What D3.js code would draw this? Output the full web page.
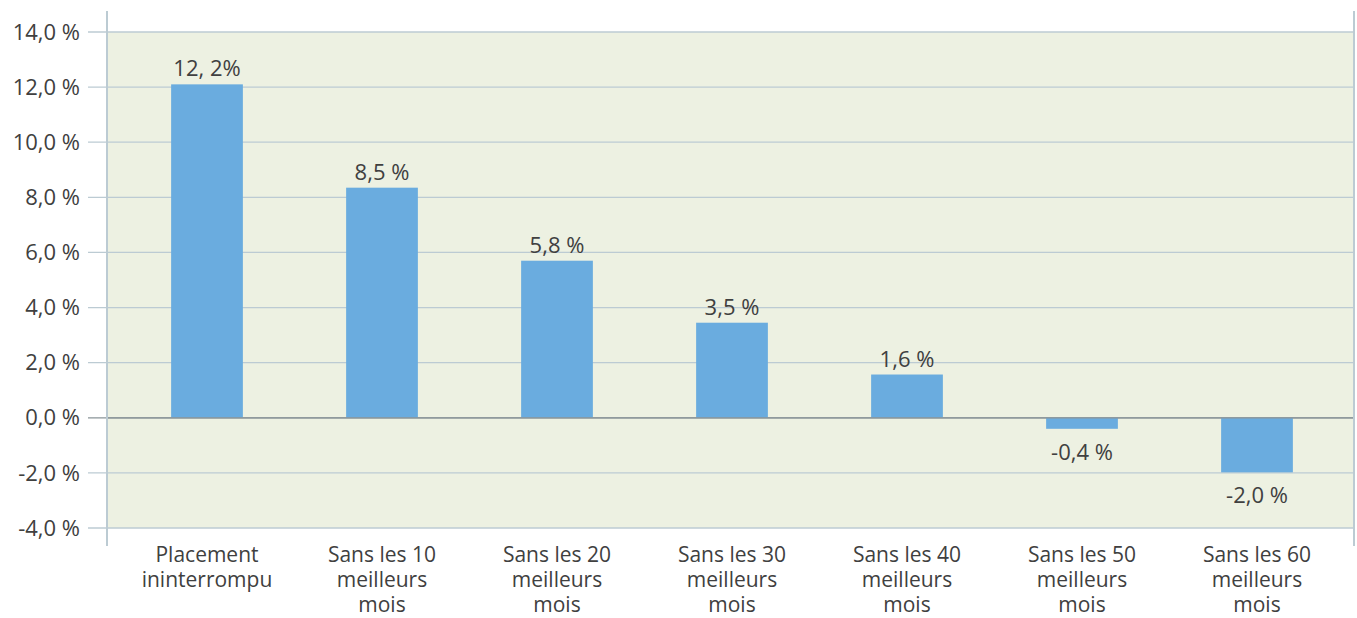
<!DOCTYPE html>
<html>
<head>
<meta charset="utf-8">
<script src="https://cdn.jsdelivr.net/npm/d3@7"></script>
<style>
	body { margin: 0; background: #fff; }
	text { font-family: "Open Sans", Lato, sans-serif; font-weight: 400; fill: #404040; }
</style>
</head>
<body>
<div id="chart"></div>
<script>
// categories (split into lines)
const categories = [
	["Placement", "ininterrompu"],
	["Sans les 10", "meilleurs", "mois"],
	["Sans les 20", "meilleurs", "mois"],
	["Sans les 30", "meilleurs", "mois"],
	["Sans les 40", "meilleurs", "mois"],
	["Sans les 50", "meilleurs", "mois"],
	["Sans les 60", "meilleurs", "mois"]
];
// bar heights
const values = [12.1, 8.35, 5.7, 3.45, 1.57, -0.4, -1.98];
// printed labels
const valueLabels = ["12, 2%", "8,5 %", "5,8 %", "3,5 %", "1,6 %", "-0,4 %", "-2,0 %"];
const yTicks = [-4, -2, 0, 2, 4, 6, 8, 10, 12, 14];

const width = 1357, height = 618;
const plot = {left: 107, right: 1354, top: 32, bottom: 528};

const svg = d3.select("#chart").append("svg")
	.attr("width", width)
	.attr("height", height);

const x = d3.scaleBand()
	.domain(d3.range(categories.length))
	.range([119.5, 1344.5])
	.paddingInner(0.59)
	.paddingOuter(0.295);

const y = d3.scaleLinear()
	.domain([-4, 14])
	.range([plot.bottom, plot.top]);

// plot background
svg.append("rect")
	.attr("x", plot.left)
	.attr("y", plot.top)
	.attr("width", plot.right - plot.left)
	.attr("height", plot.bottom - plot.top)
	.attr("fill", "#edf1e2");

// gridlines with ticks sticking out on the left
svg.append("g")
	.selectAll("line")
	.data(yTicks)
	.enter().append("line")
	.attr("x1", 88)
	.attr("x2", plot.right)
	.attr("y1", d => y(d))
	.attr("y2", d => y(d))
	.attr("stroke", d => d === 0 ? "#8a9498" : "#bccbd3")
	.attr("stroke-width", 1.3);

// y tick labels
svg.append("g")
	.selectAll("text")
	.data(yTicks)
	.enter().append("text")
	.attr("x", 80)
	.attr("y", d => y(d))
	.attr("dy", "0.35em")
	.attr("text-anchor", "end")
	.attr("font-size", "22px")
	.text(d => d3.format(".1f")(d).replace(".", ",").replace("−", "-") + " %");

// bars
svg.append("g")
	.selectAll("rect")
	.data(values)
	.enter().append("rect")
	.attr("x", (d, i) => x(i))
	.attr("width", x.bandwidth())
	.attr("y", d => y(Math.max(0, d)))
	.attr("height", d => Math.abs(y(d) - y(0)))
	.attr("fill", "#6aacdf");

// zero line on top of bars
svg.append("line")
	.attr("x1", plot.left)
	.attr("x2", plot.right)
	.attr("y1", y(0))
	.attr("y2", y(0))
	.attr("stroke", "#8a9498")
	.attr("stroke-width", 1.3);

// value labels
svg.append("g")
	.selectAll("text")
	.data(values)
	.enter().append("text")
	.attr("x", (d, i) => x(i) + x.bandwidth() / 2)
	.attr("y", d => d >= 0 ? y(d) - 8 : y(d) + 31)
	.attr("text-anchor", "middle")
	.attr("font-size", "22px")
	.text((d, i) => valueLabels[i]);

// vertical borders
[plot.left, plot.right].forEach(function(px) {
	svg.append("line")
		.attr("x1", px)
		.attr("x2", px)
		.attr("y1", 11)
		.attr("y2", 546)
		.attr("stroke", "#bccbd3")
		.attr("stroke-width", 2);
});

// category labels
const cat = svg.append("g")
	.selectAll("text")
	.data(categories)
	.enter().append("text")
	.attr("x", (d, i) => x(i) + x.bandwidth() / 2)
	.attr("y", 562)
	.attr("text-anchor", "middle")
	.attr("font-size", "21px");

cat.selectAll("tspan")
	.data(d => d)
	.enter().append("tspan")
	.attr("x", function() { return d3.select(this.parentNode).attr("x"); })
	.attr("dy", (d, i) => i === 0 ? 0 : 25)
	.text(d => d);
</script>
</body>
</html>
